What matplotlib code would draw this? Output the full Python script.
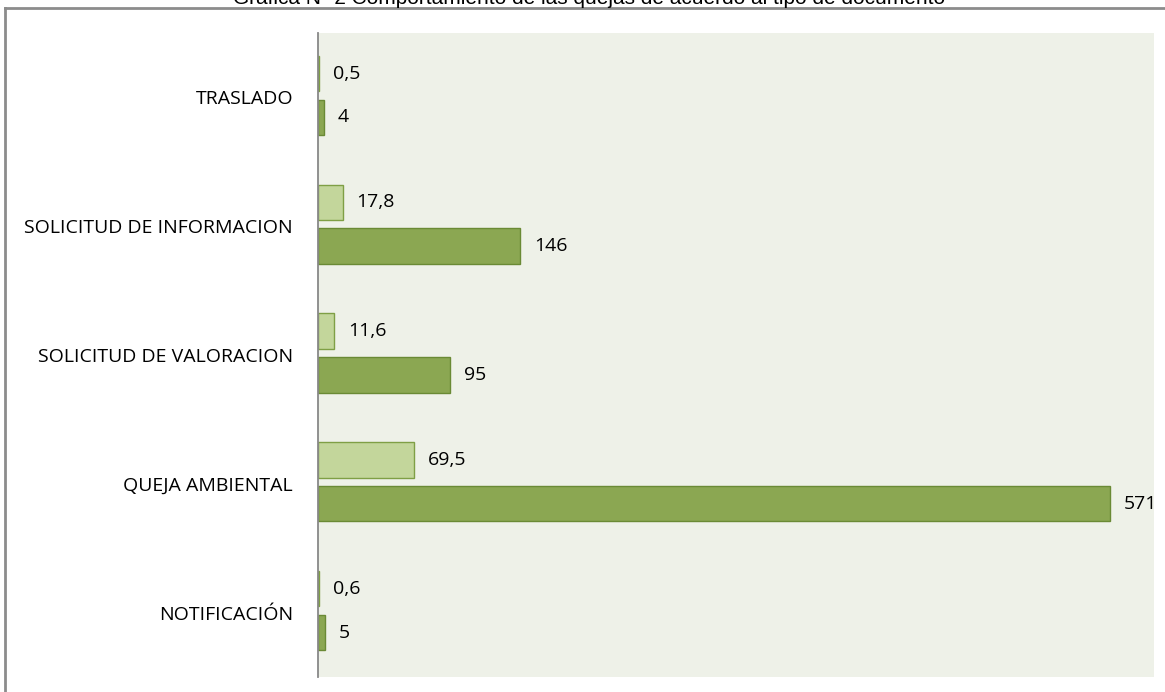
import matplotlib.pyplot as plt
import numpy as np
from matplotlib.lines import Line2D

categorias = ["TRASLADO", "SOLICITUD DE INFORMACION", "SOLICITUD DE VALORACION",
              "QUEJA AMBIENTAL", "NOTIFICACIÓN"]
porcentaje = [0.5, 17.8, 11.6, 69.5, 0.6]
cantidad = [4, 146, 95, 571, 5]
etq_pct = ["0,5", "17,8", "11,6", "69,5", "0,6"]
etq_cant = ["4", "146", "95", "571", "5"]

plt.rcParams['font.family'] = ['Open Sans', 'DejaVu Sans']

fig = plt.figure(figsize=(11.65, 6.92), dpi=100)
ax = fig.add_axes([0.273, 0.0217, 0.7176, 0.9306])
ax.set_facecolor('#EEF1E8')

y = np.arange(len(categorias))
h = 0.275
b1 = ax.barh(y - 0.185, porcentaje, height=h, color='#C3D69B', edgecolor='#7F9F45', linewidth=1)
b2 = ax.barh(y + 0.155, cantidad, height=h, color='#8BA752', edgecolor='#6A8A35', linewidth=1)

for bar, t in zip(b1, etq_pct):
    ax.annotate(t, (bar.get_width(), bar.get_y() + bar.get_height() / 2),
                xytext=(10, 0), textcoords='offset points', va='center', ha='left', fontsize=14)
for bar, t in zip(b2, etq_cant):
    ax.annotate(t, (bar.get_width(), bar.get_y() + bar.get_height() / 2),
                xytext=(10, 0), textcoords='offset points', va='center', ha='left', fontsize=14)

ax.set_xlim(0, 603)
ax.set_ylim(4.5, -0.5)
ax.set_yticks(y)
ax.set_yticklabels(categorias, fontsize=14)
ax.tick_params(axis='y', length=0, pad=18)
ax.set_xticks([])
for s in ['top', 'right', 'bottom']:
    ax.spines[s].set_visible(False)
ax.spines['left'].set_color('#888888')
ax.spines['left'].set_linewidth(1.3)

# borde exterior
fig.add_artist(Line2D([5 / 1165, 1.0], [1 - 8 / 692, 1 - 8 / 692], color='#8C8C8C', lw=2))
fig.add_artist(Line2D([5 / 1165, 5 / 1165], [0, 1 - 8 / 692], color='#8C8C8C', lw=2))

fig.text(0.506, 1 - 4 / 692, "Gráfica Nº 2 Comportamiento de las quejas de acuerdo al tipo de documento",
         ha='center', va='baseline', fontsize=15, family=['Liberation Sans', 'DejaVu Sans'])

fig.savefig('out.png', dpi=100)
